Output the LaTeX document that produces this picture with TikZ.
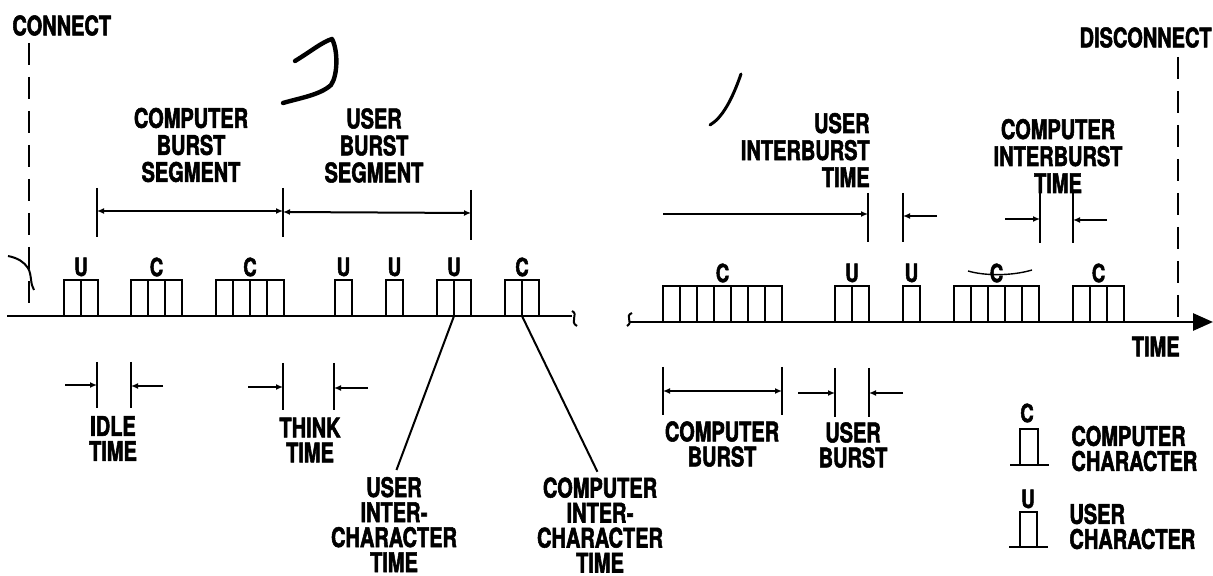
\documentclass[tikz,border=0pt]{standalone}
\usepackage{fontspec}
\usetikzlibrary{arrows.meta}
\newfontfamily\lblfont{TeX Gyre Heros}[FakeStretch=0.74, BoldFeatures={FakeBold=2}]

\tikzset{
  lbl/.style={font=\lblfont\bfseries\fontsize{13.5pt}{12.5pt}\selectfont, inner sep=0pt, align=center, text=black},
  toplbl/.style={lbl, font=\lblfont\bfseries\fontsize{13.5pt}{13.5pt}\selectfont},
  boxlbl/.style={font=\lblfont\bfseries\fontsize{12.5pt}{12.5pt}\selectfont, inner sep=0pt},
  chr/.style={line width=1pt},
  axisline/.style={line width=1.4pt},
  tickline/.style={line width=1.1pt},
  dimline/.style={line width=1pt, {Latex[length=3.5pt,width=3pt]}-{Latex[length=3.5pt,width=3pt]}},
  arrline/.style={line width=1pt, -{Latex[length=3.5pt,width=3pt]}},
  cdash/.style={line width=1.2pt, dash pattern=on 11pt off 6pt},
  leader/.style={line width=1pt},
  scribble/.style={line width=2.2pt, line cap=round, line join=round},
}

\newcommand\chgroup[5]{%
  \foreach \k in {1,...,#3}{\draw[chr] ({#2+17*(\k-1)},#4) rectangle ++(17,-36);}%
  \node[boxlbl] (#1) at ({#2+8.5*#3},{#4-49}) {#5};%
}

\begin{document}
\begin{tikzpicture}[x=0.5pt,y=-0.5pt]
\useasboundingbox (0,0) rectangle (1213,576);
\fill[white] (0,0) rectangle (1213,576);

% connect / disconnect
\node[lbl, anchor=west] (connect) at (12,25.5) {CONNECT};
\node[lbl, anchor=east] (disconnect) at (1212,37.5) {DISCONNECT};
\coordinate (conn-top) at (29,43);
\coordinate (conn-bot) at (29,316);
\coordinate (disc-top) at (1178,57);
\coordinate (disc-bot) at (1178,322);
\draw[cdash] (conn-top) -- (conn-bot);
\draw[cdash] (disc-top) -- (disc-bot);

% time axis
\coordinate (axL0) at (7,316);
\coordinate (axL1) at (572,316);
\coordinate (axR0) at (629,322);
\coordinate (axR1) at (1213,322);
\draw[axisline] (axL0) -- (axL1);
\draw[line width=1pt] (572,311) .. controls (579,314) and (569,322) .. (577,326);
\draw[line width=1pt] (632,313) .. controls (624,316) and (634,322) .. (627,326);
\draw[axisline, -{Triangle[length=10pt,width=8.5pt]}] (axR0) -- (axR1);

% left squiggle
\draw[line width=1pt] (8,256) .. controls (18,258) and (24,262) .. (28,268) .. controls (32,275) and (30,284) .. (34,290);

% characters, left segment
\chgroup{u1}{64}{2}{316}{U}
\chgroup{c1}{131}{3}{316}{C}
\chgroup{c2}{216}{4}{316}{C}
\chgroup{u2}{335}{1}{316}{U}
\chgroup{u3}{386}{1}{316}{U}
\chgroup{u4}{437}{2}{316}{U}
\chgroup{c3}{505}{2}{316}{C}
% characters, right segment
\chgroup{c4}{663}{7}{322}{C}
\chgroup{u5}{835}{2}{322}{U}
\chgroup{u6}{903}{1}{322}{U}
\chgroup{c5}{954}{5}{322}{C}
\chgroup{c6}{1073}{3}{322}{C}

% top labels
\node[toplbl] (cbs) at (191,145) {COMPUTER\\BURST\\SEGMENT};
\node[toplbl] (ubs) at (374,145.5) {USER\\BURST\\SEGMENT};
\node[toplbl, align=right, anchor=east] (uit) at (870,150) {USER\\INTERBURST\\TIME};
\node[toplbl] (cit) at (1058,156) {COMPUTER\\INTERBURST\\TIME};

% segment brackets
\draw[tickline] (97,188) -- (97,237);
\draw[tickline] (283,188) -- (283,237);
\draw[tickline] (471,190) -- (471,240);
\draw[dimline] (97,211) -- (283,211);
\draw[dimline] (283,212) -- (471,213);

% interburst markers
\draw[tickline] (868,193) -- (868,242);
\draw[tickline] (903,193) -- (903,242);
\draw[arrline] (663,214) -- (868,214);
\draw[arrline] (937,216) -- (903,216);
\draw[tickline] (1040,193) -- (1040,243);
\draw[tickline] (1073,193) -- (1073,243);
\draw[arrline] (1005,219) -- (1040,219);
\draw[arrline] (1107,220) -- (1073,220);

% bottom markers
\draw[tickline] (97,362) -- (97,408);
\draw[tickline] (131,362) -- (131,408);
\draw[arrline] (65,385) -- (97,385);
\draw[arrline] (163,386) -- (131,386);
\draw[tickline] (283,363) -- (283,410);
\draw[tickline] (334,363) -- (334,410);
\draw[arrline] (248,387) -- (283,387);
\draw[arrline] (368,388) -- (334,388);
\draw[tickline] (663,367) -- (663,415);
\draw[tickline] (782,367) -- (782,415);
\draw[dimline] (663,391) -- (782,391);
\draw[tickline] (835,368) -- (835,417);
\draw[tickline] (869,368) -- (869,417);
\draw[arrline] (798,393) -- (835,393);
\draw[arrline] (903,393) -- (869,393);

% bottom labels
\node[lbl] (idle) at (113,438.5) {IDLE\\TIME};
\node[lbl] (think) at (310,440) {THINK\\TIME};
\node[lbl] (uict) at (394,524.5) {USER\\INTER-\\CHARACTER\\TIME};
\node[lbl] (cict) at (600,525) {COMPUTER\\INTER-\\CHARACTER\\TIME};
\node[lbl] (cb) at (722,444) {COMPUTER\\BURST};
\node[lbl] (ub) at (853,445) {USER\\BURST};
\node[lbl, anchor=east] (time) at (1180,346.5) {TIME};

% leaders
\coordinate (uict-src) at (454,316);
\coordinate (cict-src) at (522,316);
\draw[leader, shorten >=3.5pt] (uict-src) -- (uict.north);
\draw[leader, shorten >=3pt] (cict-src) -- (cict.north);

% legend
\draw[chr] (1020,465) rectangle (1038,429);
\draw[line width=1.2pt] (1010,465) -- (1049,465);
\node[boxlbl] (legc) at (1027,413) {C};
\node[lbl, align=left, anchor=west] (lcc) at (1071,448.5) {COMPUTER\\CHARACTER};
\draw[chr] (1020,547) rectangle (1037,512);
\draw[line width=1.2pt] (1009,547) -- (1048,547);
\node[boxlbl] (legu) at (1028,499) {U};
\node[lbl, align=left, anchor=west] (luc) at (1069,526.5) {USER\\CHARACTER};

% hand marks
\draw[scribble] (295,61) .. controls (310,52) and (322,42) .. (332,39) .. controls (338,50) and (338,75) .. (331,85) .. controls (320,95) and (300,98) .. (283,103);
\draw[scribble, line width=1.5pt] (710,125) .. controls (722,118) and (732,100) .. (741,74);
\draw[line width=0.7pt] (968,271) .. controls (985,276) and (1012,276) .. (1032,270);
\end{tikzpicture}
\end{document}
